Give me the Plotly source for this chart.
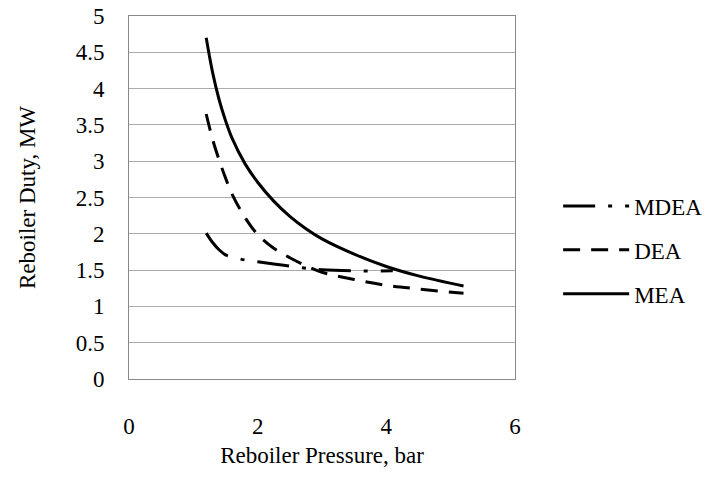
import plotly.graph_objects as go

# Data
mea_x = [1.2, 1.3, 1.4, 1.5, 1.6, 1.8, 2.0, 2.25, 2.5, 2.75, 3.0, 3.5, 4.0, 4.5, 5.2]
mea_y = [4.70, 4.22, 3.85, 3.56, 3.32, 2.97, 2.71, 2.45, 2.24, 2.07, 1.93, 1.72, 1.55, 1.42, 1.28]

dea_x = [1.2, 1.3, 1.4, 1.5, 1.6, 1.8, 2.0, 2.25, 2.5, 2.75, 3.0, 3.5, 4.0, 4.5, 5.2]
dea_y = [3.65, 3.30, 3.02, 2.77, 2.55, 2.23, 1.99, 1.80, 1.67, 1.56, 1.47, 1.37, 1.29, 1.24, 1.18]

mdea_x = [1.2, 1.3, 1.4, 1.5, 1.6, 1.8, 2.0, 2.25, 2.5, 2.75, 3.0, 3.5, 4.1]
mdea_y = [2.01, 1.88, 1.78, 1.71, 1.68, 1.64, 1.615, 1.585, 1.555, 1.525, 1.505, 1.49, 1.49]

font_family = "Liberation Serif"
fs = 23

fig = go.Figure()
fig.add_trace(go.Scatter(x=mdea_x, y=mdea_y, mode="lines", name="MDEA",
                         legendgroup="a",
                         line=dict(color="black", width=3, dash="32px,13px,4px,13px",
                                   shape="spline", smoothing=1)))
fig.add_trace(go.Scatter(x=dea_x, y=dea_y, mode="lines", name="DEA",
                         legendgroup="b",
                         line=dict(color="black", width=3, dash="17px,11px",
                                   shape="spline", smoothing=1)))
fig.add_trace(go.Scatter(x=mea_x, y=mea_y, mode="lines", name="MEA",
                         legendgroup="c",
                         line=dict(color="black", width=3,
                                   shape="spline", smoothing=1)))

fig.update_layout(
    width=711, height=477,
    margin=dict(l=129, r=196, t=16, b=98),
    paper_bgcolor="white", plot_bgcolor="white",
    font=dict(family=font_family, size=fs, color="black"),
    showlegend=True,
    legend=dict(xref="container", yref="container",
                x=0.785, y=0.476, xanchor="left", yanchor="middle",
                font=dict(family=font_family, size=fs, color="black"),
                traceorder="grouped", tracegroupgap=11, itemwidth=66,
                bgcolor="rgba(0,0,0,0)"),
    xaxis=dict(range=[0, 6], dtick=2, showgrid=False, zeroline=False,
               showline=True, linecolor="#888888", linewidth=1, mirror=True,
               ticks="", ticklabelstandoff=26, automargin=False,
               tickfont=dict(family=font_family, size=fs),
               title=dict(text="Reboiler Pressure, bar", standoff=9,
                          font=dict(family=font_family, size=fs))),
    yaxis=dict(range=[0, 5], dtick=0.5, showgrid=True, gridcolor="#ababab",
               gridwidth=1, zeroline=False,
               showline=True, linecolor="#888888", linewidth=1, mirror=True,
               ticks="", ticklabelstandoff=19, automargin=False,
               tickfont=dict(family=font_family, size=fs),
               title=dict(text="Reboiler Duty, MW", standoff=33,
                          font=dict(family=font_family, size=fs))),
)

fig.write_html("out.html")
